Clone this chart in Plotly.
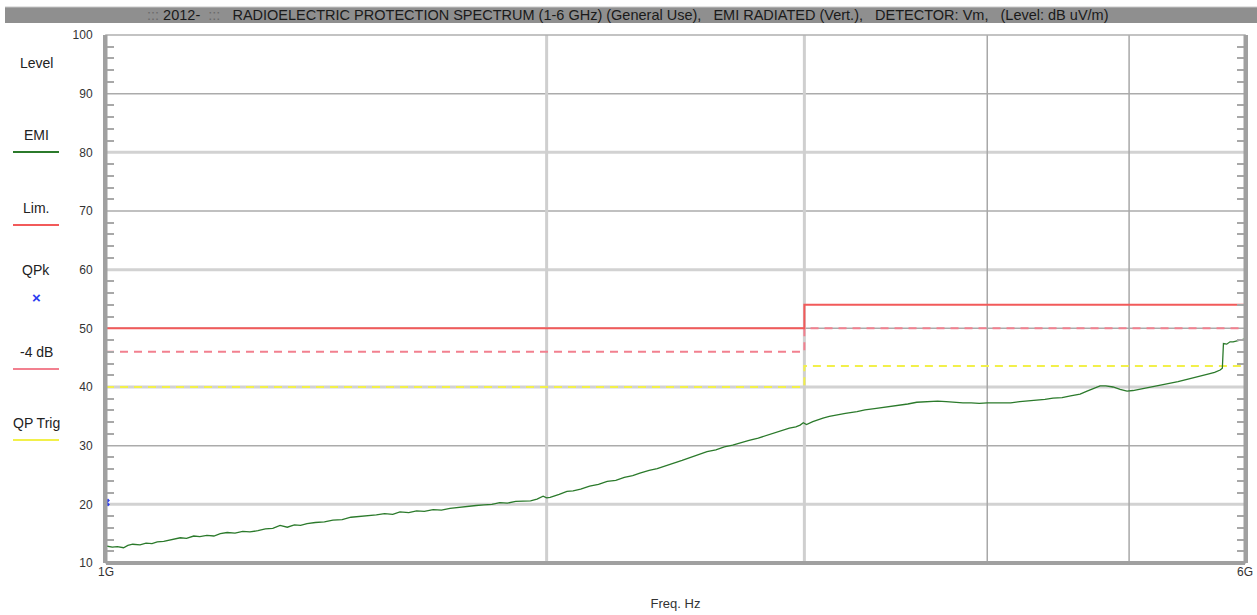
import plotly.graph_objects as go

# ---------------- data ----------------
emi_freq_ghz = [1.000, 1.010, 1.018, 1.028, 1.035, 1.043, 1.055, 1.065, 1.075, 1.084, 1.095, 1.105, 1.115, 1.124,
                1.135, 1.148, 1.159, 1.172, 1.185, 1.197, 1.210, 1.225, 1.240, 1.254, 1.270, 1.285, 1.300, 1.315,
                1.330, 1.345, 1.358, 1.372, 1.390, 1.410, 1.429, 1.450, 1.470, 1.490, 1.508, 1.530, 1.550, 1.570,
                1.588, 1.610, 1.630, 1.650, 1.673, 1.695, 1.718, 1.742, 1.765, 1.790, 1.812, 1.835, 1.858, 1.880,
                1.905, 1.930, 1.950, 1.970, 1.989, 2.000, 2.011, 2.040, 2.065, 2.085, 2.110, 2.140, 2.170, 2.200,
                2.230, 2.260, 2.290, 2.316, 2.350, 2.380, 2.410, 2.440, 2.475, 2.510, 2.540, 2.574, 2.610, 2.645,
                2.680, 2.711, 2.750, 2.790, 2.820, 2.856, 2.890, 2.930, 2.960, 2.980, 2.995, 3.010, 3.040, 3.070,
                3.089, 3.120, 3.160, 3.200, 3.259, 3.300, 3.350, 3.400, 3.433, 3.480, 3.530, 3.580, 3.616, 3.660,
                3.700, 3.750, 3.790, 3.850, 3.900, 3.950, 4.000, 4.050, 4.100, 4.150, 4.210, 4.260, 4.320, 4.380,
                4.436, 4.500, 4.560, 4.629, 4.680, 4.730, 4.777, 4.820, 4.875, 4.930, 4.984, 5.030, 5.080, 5.143,
                5.200, 5.260, 5.333, 5.400, 5.460, 5.530, 5.600, 5.660, 5.720, 5.770, 5.790, 5.800, 5.830, 5.860,
                5.889, 5.930, 5.960, 6.000]
emi_level = [12.9, 12.7, 12.8, 12.6, 13.0, 13.2, 13.1, 13.4, 13.3, 13.6, 13.7, 13.9, 14.0, 14.3,
             14.2, 14.6, 14.5, 14.7, 14.6, 15.0, 15.2, 15.1, 15.4, 15.3, 15.5, 15.8, 15.9, 16.4,
             16.1, 16.5, 16.4, 16.7, 16.9, 17.0, 17.3, 17.4, 17.8, 17.9, 18.1, 18.2, 18.4, 18.3,
             18.7, 18.6, 18.9, 18.8, 19.1, 19.0, 19.3, 19.5, 19.6, 19.8, 19.9, 20.0, 20.3, 20.2,
             20.5, 20.6, 20.6, 20.9, 21.4, 21.1, 21.2, 21.7, 22.2, 22.3, 22.6, 23.1, 23.4, 23.9,
             24.1, 24.6, 24.9, 25.3, 25.8, 26.1, 26.6, 27.0, 27.5, 28.0, 28.4, 29.0, 29.3, 29.8,
             30.1, 30.4, 30.9, 31.3, 31.7, 32.1, 32.5, 33.0, 33.2, 33.5, 33.9, 33.6, 34.1, 34.5,
             34.7, 35.0, 35.3, 35.5, 35.8, 36.1, 36.3, 36.5, 36.6, 36.9, 37.1, 37.4, 37.5, 37.5,
             37.6, 37.5, 37.4, 37.3, 37.3, 37.2, 37.3, 37.3, 37.4, 37.3, 37.5, 37.6, 37.7, 37.9,
             38.1, 38.2, 38.5, 38.8, 39.3, 39.8, 40.2, 40.2, 40.0, 39.6, 39.3, 39.4, 39.6, 39.8,
             40.1, 40.3, 40.6, 40.9, 41.2, 41.6, 41.9, 42.2, 42.5, 42.9, 43.2, 47.4, 47.3, 47.7,
             47.7, 47.9, 48.0, 48.2]

limit_freq_ghz = [1.0, 3.0, 6.0]
lim_level = [50, 54, 54]
lim_minus4_level = [46, 50, 50]
qp_trig_level = [40, 43.6, 43.6]

qpk_freq_ghz = [1.0]
qpk_level = [20.3]

y_major = [20, 30, 40, 50, 60, 70, 80, 90]
x_grid_ghz = [2, 3, 4, 5]
x_tick_ghz = [1, 6]
x_tick_text = ["1G", "6G"]

legend_items = ["Level", "EMI", "Lim.", "QPk", "-4 dB", "QP Trig"]

title_text = ("<span style='color:#6a6a6a'>:::</span> 2012-  <span style='color:#6a6a6a'>:::</span>   "
              "RADIOELECTRIC PROTECTION SPECTRUM (1-6 GHz) (General Use),   EMI RADIATED (Vert.),   "
              "DETECTOR: Vm,   (Level: dB uV/m)")

# ---------------- styles ----------------
GREEN = "#2b7a2b"
RED = "#f25a5a"
PINK = "#f2808f"
YELLOW = "#f2f04a"
BLUE = "#2a3cf0"
FONT = "Liberation Sans, Arial, sans-serif"

W, H = 1257, 615
ML, MR, MT, MB = 106, 12, 35, 52
PW = W - ML - MR
PH = H - MT - MB


def px(xp):
    return (xp - ML) / PW


def py(yp):
    return (H - MB - yp) / PH


G = 1e9
fig = go.Figure()

fig.add_trace(go.Scatter(x=[f * G for f in limit_freq_ghz], y=qp_trig_level, mode="lines",
                         line=dict(color=YELLOW, width=2, dash="8px,6px", shape="hv"), showlegend=False))
fig.add_trace(go.Scatter(x=[f * G for f in limit_freq_ghz], y=lim_minus4_level, mode="lines",
                         line=dict(color=PINK, width=2, dash="8px,6px", shape="hv"), showlegend=False))
fig.add_trace(go.Scatter(x=[f * G for f in limit_freq_ghz], y=lim_level, mode="lines",
                         line=dict(color=RED, width=2, shape="hv"), showlegend=False))
fig.add_trace(go.Scatter(x=[f * G for f in emi_freq_ghz], y=emi_level, mode="lines",
                         line=dict(color=GREEN, width=1.3), showlegend=False))
fig.add_trace(go.Scatter(x=[f * G for f in qpk_freq_ghz], y=qpk_level, mode="markers",
                         marker=dict(color=BLUE, size=7, symbol="x"), showlegend=False))

shapes = []
# grid lines
for v in y_major:
    light = (v % 20 == 0)
    shapes.append(dict(type="line", xref="paper", yref="y", x0=0, x1=1, y0=v, y1=v, layer="below",
                       line=dict(color="#d2d2d2" if light else "#ababab", width=3 if light else 1.5)))
for f in x_grid_ghz:
    light = f < 4
    shapes.append(dict(type="line", xref="x", yref="paper", x0=f * G, x1=f * G, y0=0, y1=1, layer="below",
                       line=dict(color="#cfcfcf" if light else "#a8a8a8", width=3 if light else 1.5)))
# frame
shapes.append(dict(type="rect", xref="paper", yref="paper", x0=0, x1=1, y0=0, y1=1,
                   line=dict(color="#b0b0b0", width=1.5)))
shapes.append(dict(type="line", xref="paper", yref="paper", x0=0, x1=0, y0=0, y1=1,
                   line=dict(color="#a0a0a0", width=3)))
shapes.append(dict(type="line", xref="paper", yref="paper", x0=1, x1=1, y0=0, y1=1,
                   line=dict(color="#a0a0a0", width=3)))
shapes.append(dict(type="line", xref="paper", yref="paper", x0=0, x1=1, y0=0, y1=0,
                   line=dict(color="#a0a0a0", width=4)))
# title bar
shapes.append(dict(type="rect", xref="paper", yref="paper", x0=px(5), x1=px(1257), y0=py(23), y1=py(7),
                   fillcolor="#8f8f8f", line=dict(width=0), layer="below"))
shapes.append(dict(type="line", xref="paper", yref="paper", x0=px(5), x1=px(1257), y0=py(7), y1=py(7),
                   line=dict(color="#c8c8c8", width=1)))

annotations = [dict(xref="paper", yref="paper", x=px(627), y=py(15), text=title_text, showarrow=False,
                    font=dict(family=FONT, size=14.5, color="#1a1a1a"), xanchor="center", yanchor="middle")]

# left legend
legend_text_y = [63, 135, 208, 270, 352, 423]
legend_line_y = [None, 152, 225, None, 369, 440]
legend_line_col = [None, GREEN, RED, None, PINK, YELLOW]
for name, ty, ly, col in zip(legend_items, legend_text_y, legend_line_y, legend_line_col):
    annotations.append(dict(xref="paper", yref="paper", x=px(36), y=py(ty), text=name, showarrow=False,
                            font=dict(family=FONT, size=14, color="#222"), xanchor="center", yanchor="middle"))
    if ly is not None:
        shapes.append(dict(type="line", xref="paper", yref="paper", x0=px(13), x1=px(59), y0=py(ly), y1=py(ly),
                           line=dict(color=col, width=2)))
annotations.append(dict(xref="paper", yref="paper", x=px(36), y=py(297), text="<b>\u00d7</b>", showarrow=False,
                        font=dict(family=FONT, size=15, color=BLUE), xanchor="center", yanchor="middle"))

fig.update_layout(
    width=W, height=H,
    margin=dict(l=ML, r=MR, t=MT, b=MB, autoexpand=False),
    paper_bgcolor="white", plot_bgcolor="white",
    shapes=shapes, annotations=annotations,
    font=dict(family=FONT, color="#333"),
    xaxis=dict(type="log", range=[9, 9 + 0.778151], showgrid=False, zeroline=False, automargin=False,
               tickvals=[f * G for f in x_tick_ghz], ticktext=x_tick_text, ticks="",
               tickfont=dict(size=12, color="#333"),
               title=dict(text="Freq. Hz", font=dict(size=13, color="#333"), standoff=20)),
    yaxis=dict(range=[10, 100], showgrid=False, zeroline=False, dtick=10, ticks="", automargin=False,
               tickfont=dict(size=12, color="#333"), ticklabelstandoff=8,
               showline=True, linecolor="#a0a0a0", linewidth=3, mirror="allticks",
               minor=dict(dtick=2, ticks="inside", ticklen=8, tickcolor="#a8a8a8", tickwidth=1.5)),
)

fig.write_html("out.html", config={"displayModeBar": False},
               post_script="document.body.style.margin='0';document.body.style.overflow='hidden';")
